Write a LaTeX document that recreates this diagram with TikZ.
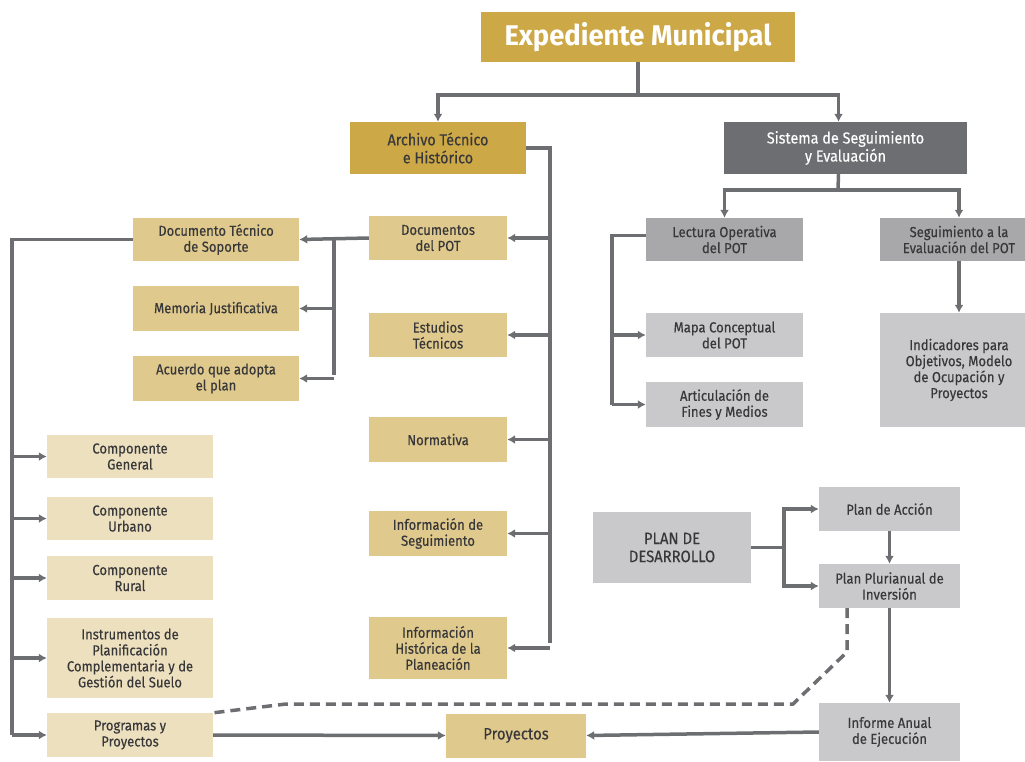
\documentclass[tikz,border=0pt]{standalone}
\usepackage{fontspec}
\setmainfont{Fira Sans}[FakeStretch=0.9,FakeBold=0.3]
\newfontfamily\titlefont{Fira Sans}[FakeStretch=0.96]
\usepackage{xcolor}
\usepackage{tikz}
\usetikzlibrary{arrows.meta}
\definecolor{golddark}{HTML}{CCA847}
\definecolor{goldmid}{HTML}{DFC98C}
\definecolor{goldlight}{HTML}{EDE0BF}
\definecolor{graydark}{HTML}{6D6E71}
\definecolor{graymid}{HTML}{A8A7A9}
\definecolor{graylight}{HTML}{C9C8CA}
\definecolor{textgray}{HTML}{38383A}

\tikzset{
  box/.style={rectangle, inner sep=2pt, align=center, text=textgray,
    font=\fontsize{14.5}{16}\selectfont},
  line/.style={draw=graydark, line width=3.5pt},
  arrow/.style={line, -{Latex[length=8pt,width=9pt]}},
  dashline/.style={draw=graydark, line width=3.5pt, dash pattern=on 10pt off 6pt}
}

\begin{document}
\begin{tikzpicture}[x=1pt,y=-1pt]
\useasboundingbox (0,0) rectangle (1025,761);

% Top level
\node[box, fill=golddark, text=white, minimum width=314, minimum height=50,
  font=\titlefont\fontsize{28.5}{30}\selectfont\bfseries] (expediente) at (638,37) {Expediente Municipal};
\node[box, fill=golddark, minimum width=176, minimum height=52,
  font=\fontsize{16}{18}\selectfont] (archivo) at (438,148) {Archivo Técnico\\e Histórico};
\node[box, fill=graydark, text=white, minimum width=243, minimum height=52,
  font=\fontsize{16}{18}\selectfont] (sistema) at (845.5,148) {Sistema de Seguimiento\\y Evaluación};

% Archivo column
\node[box, fill=goldmid, minimum width=138, minimum height=44] (docpot) at (438,238) {Documentos\\del POT};
\node[box, fill=goldmid, minimum width=138, minimum height=44] (estudios) at (438,335) {Estudios\\Técnicos};
\node[box, fill=goldmid, minimum width=138, minimum height=45] (normativa) at (438,439.5) {Normativa};
\node[box, fill=goldmid, minimum width=138, minimum height=45] (infoseg) at (438,533.5) {Información de\\Seguimiento};
\node[box, fill=goldmid, minimum width=138, minimum height=62] (infohist) at (438,648) {Información\\Histórica de la\\Planeación};

% Documentos del POT
\node[box, fill=goldmid, minimum width=166, minimum height=43] (dts) at (216,239.5) {Documento Técnico\\de Soporte};
\node[box, fill=goldmid, minimum width=166, minimum height=45] (memoria) at (216,308.5) {Memoria Justificativa};
\node[box, fill=goldmid, minimum width=166, minimum height=45] (acuerdo) at (216,378.5) {Acuerdo que adopta\\el plan};

% Componentes
\node[box, fill=goldlight, minimum width=166, minimum height=43] (cgen) at (130,456.5) {Componente\\General};
\node[box, fill=goldlight, minimum width=166, minimum height=43] (curb) at (130,518.5) {Componente\\Urbano};
\node[box, fill=goldlight, minimum width=166, minimum height=44] (crur) at (130,578) {Componente\\Rural};
\node[box, fill=goldlight, minimum width=166, minimum height=80] (inst) at (130,658) {Instrumentos de\\Planificación\\Complementaria y de\\Gestión del Suelo};
\node[box, fill=goldlight, minimum width=166, minimum height=44] (prog) at (130,735) {Programas y\\Proyectos};
\node[box, fill=goldmid, minimum width=140, minimum height=44,
  font=\fontsize{16.5}{18}\selectfont] (proyectos) at (516,735.5) {Proyectos};

% Seguimiento side
\node[box, fill=graymid, minimum width=157, minimum height=43] (lectura) at (724.5,239.5) {Lectura Operativa\\del POT};
\node[box, fill=graymid, minimum width=158, minimum height=43] (segeval) at (959,239.5) {Seguimiento a la\\Evaluación del POT};
\node[box, fill=graylight, minimum width=158, minimum height=114] (indicadores) at (959,370) {Indicadores para\\Objetivos, Modelo\\de Ocupación y\\Proyectos};
\node[box, fill=graylight, minimum width=157, minimum height=44] (mapa) at (724.5,335) {Mapa Conceptual\\del POT};
\node[box, fill=graylight, minimum width=157, minimum height=45] (artic) at (724.5,404.5) {Articulación de\\Fines y Medios};

% Plan de desarrollo
\node[box, fill=graylight, minimum width=158, minimum height=71,
  font=\fontsize{16.5}{18}\selectfont] (pland) at (672,547.5) {PLAN DE\\DESARROLLO};
\node[box, fill=graylight, minimum width=141, minimum height=44] (placcion) at (889.5,509) {Plan de Acción};
\node[box, fill=graylight, minimum width=141, minimum height=44] (plurianual) at (889.5,586) {Plan Plurianual de\\Inversión};
\node[box, fill=graylight, minimum width=141, minimum height=58] (informe) at (889.5,732) {Informe Anual\\de Ejecución};

% Connectors, top
\coordinate (topbus) at (638,95);
\draw[line] (expediente.south) -- (topbus);
\draw[arrow] (topbus) -| (archivo.north);
\draw[arrow] (topbus) -| ([xshift=-7]sistema.north);

% Archivo bus
\coordinate (abus) at (550,643);
\draw[line] (archivo.east) -| (abus);
\foreach \n in {docpot,estudios,normativa,infoseg,infohist}
  \draw[arrow] (abus |- \n.east) -- (\n.east);

% Documentos bus
\coordinate (dbus) at (334,375);
\draw[arrow] (docpot.west) -- (dts.east);
\draw[line] (dbus |- docpot.west) -- (dbus);
\foreach \n in {memoria,acuerdo}
  \draw[arrow] (dbus |- \n.east) -- (\n.east);

% Componentes bus
\coordinate (lbus) at (12,735);
\draw[line] (dts.west) -| (lbus);
\foreach \n in {cgen,curb,crur,inst,prog}
  \draw[arrow] (lbus |- \n.west) -- (\n.west);
\draw[arrow] (prog.east) -- (proyectos.west);

% Sistema side
\coordinate (sbus) at (838,190);
\draw[line] ([xshift=-7]sistema.south) -- (sbus);
\draw[arrow] (sbus) -| (lectura.north);
\draw[arrow] (sbus) -| (segeval.north);
\draw[arrow] (segeval.south) -- (indicadores.north);
\coordinate (rbus) at (612,404.5);
\draw[line] ([yshift=4]lectura.west) -| (rbus);
\foreach \n in {mapa,artic}
  \draw[arrow] (rbus |- \n.west) -- (\n.west);

% Plan de desarrollo
\coordinate (pbus) at (784,547.5);
\draw[line] (pland.east) -- (pbus);
\draw[arrow] (pbus) |- (placcion.west);
\draw[arrow] (pbus) |- (plurianual.west);
\draw[arrow] (placcion.south) -- (plurianual.north);
\draw[arrow] (plurianual.south) -- (informe.north);
\draw[arrow] (informe.west) -- (proyectos.east);
\draw[dashline] (847,608) -- (847,652) -- (793,704) -- (286,704) -- (prog.north east);

\end{tikzpicture}
\end{document}
